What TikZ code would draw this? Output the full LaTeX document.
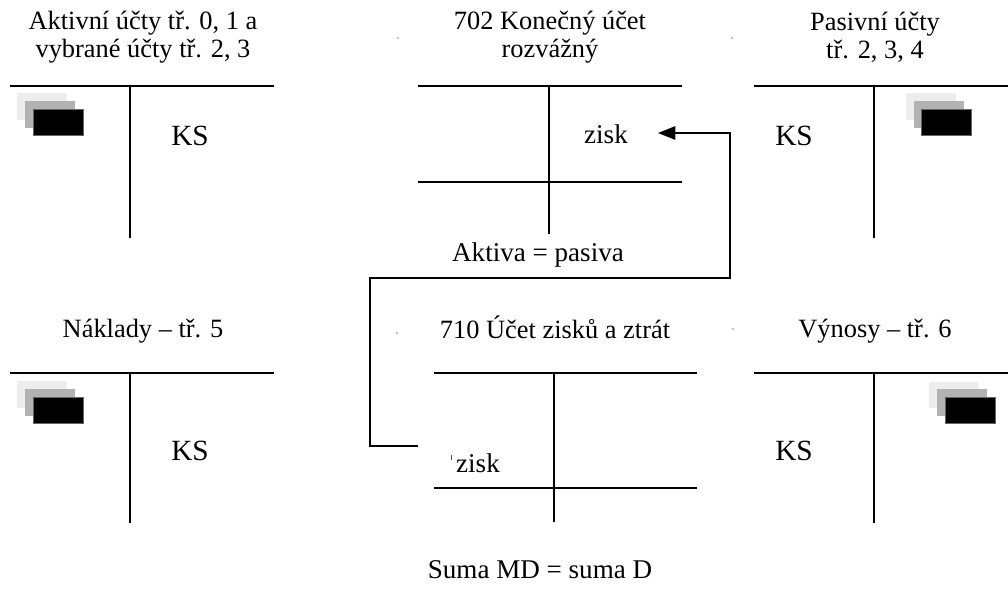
\documentclass[tikz,border=0pt]{standalone}
\usepackage{fontspec}
\setmainfont{Liberation Serif}
\usetikzlibrary{arrows.meta}
\tikzset{
  tline/.style={line width=1.5pt, black},
  ttl/.style={font=\fontsize{19.8}{21}\selectfont, align=center, inner sep=0pt},
  lbl/.style={font=\fontsize{22}{24}\selectfont, inner sep=0pt},
  zlbl/.style={font=\fontsize{20.3}{22}\selectfont, inner sep=0pt},
  sh1/.style={fill=black!7, draw=none},
  sh2/.style={fill=black!30, draw=none},
  sh3/.style={fill=black, draw=black!60, line width=0.3pt},
  conn/.style={line width=1.4pt, -{Triangle[length=13pt,width=10pt]}},
  dotm/.style={fill=black!50, draw=none}
}
\begin{document}
\begin{tikzpicture}[x=0.75pt,y=-0.75pt]
\useasboundingbox (0,0) rectangle (1008,597);

% ---------- Aktivní účty (top left)
\node[ttl] (t1) at (143,37) {Aktivní účty tř. 0, 1 a\\vybrané účty tř. 2, 3};
\draw[tline] (10,86) -- (274,86);
\draw[tline] (130,86) -- (130,238);
\fill[sh1] (17,93) rectangle (67,120);
\fill[sh2] (25,101) rectangle (75,128);
\filldraw[sh3] (33,109) rectangle (83,135);
\node[lbl] (ks1) at (190,136) {KS};

% ---------- 702 Konečný účet rozvážný (top middle)
\node[ttl] (t2) at (550,37) {702 Konečný účet\\rozvážný};
\draw[tline] (418,86) -- (682,86);
\draw[tline] (418,182) -- (682,182);
\draw[tline] (549,86) -- (549,234);
\node[zlbl] (z1) at (606,134) {zisk};
\coordinate (a1) at (658,133);

% ---------- Pasivní účty (top right)
\node[ttl] (t3) at (875,37) {Pasivní účty\\tř. 2, 3, 4};
\draw[tline] (754,86) -- (1008,86);
\draw[tline] (874,86) -- (874,238);
\fill[sh1] (906,93) rectangle (956,120);
\fill[sh2] (914,101) rectangle (964,128);
\filldraw[sh3] (921,109) rectangle (971,135);
\node[lbl] (ks3) at (794,136) {KS};

% ---------- Aktiva = pasiva
\node[zlbl] (ap) at (538,255) {Aktiva = pasiva};

% ---------- Náklady (bottom left)
\node[ttl] (t4) at (143,331) {Náklady – tř. 5};
\draw[tline] (10,373) -- (274,373);
\draw[tline] (130,373) -- (130,523);
\fill[sh1] (17,381) rectangle (67,408);
\fill[sh2] (25,389) rectangle (75,416);
\filldraw[sh3] (33,397) rectangle (83,423);
\node[lbl] (ks4) at (190,451) {KS};

% ---------- 710 Účet zisků a ztrát (bottom middle)
\node[ttl] (t5) at (555,327) {710 Účet zisků a ztrát};
\draw[tline] (434,373) -- (697,373);
\draw[tline] (434,488) -- (697,488);
\draw[tline] (554,373) -- (554,522);
\node[zlbl] (z2) at (478,463) {zisk};
\coordinate (s2) at (418,446);

% ---------- Výnosy (bottom right)
\node[ttl] (t6) at (875,331) {Výnosy – tř. 6};
\draw[tline] (754,373) -- (1008,373);
\draw[tline] (874,373) -- (874,523);
\fill[sh1] (929,382) rectangle (979,408);
\fill[sh2] (937,389) rectangle (987,416);
\filldraw[sh3] (945,397) rectangle (995,423);
\node[lbl] (ks6) at (794,451) {KS};

% ---------- connector zisk (710) -> zisk (702)
\draw[conn] (s2) -- (370,446) -- (370,278) -- (730,278) -- (730,133) -- (a1);

% ---------- Suma
\node[zlbl] (sm) at (540,570) {Suma MD = suma D};

% ---------- tiny marks
\fill[dotm] (398,38) circle (0.8);
\fill[dotm] (732,38) circle (0.8);
\fill[dotm] (397,333) circle (0.8);
\fill[dotm] (733,329) circle (0.8);
\draw[line width=0.6pt, black!70] (451,455) -- (451,460);
\end{tikzpicture}
\end{document}
